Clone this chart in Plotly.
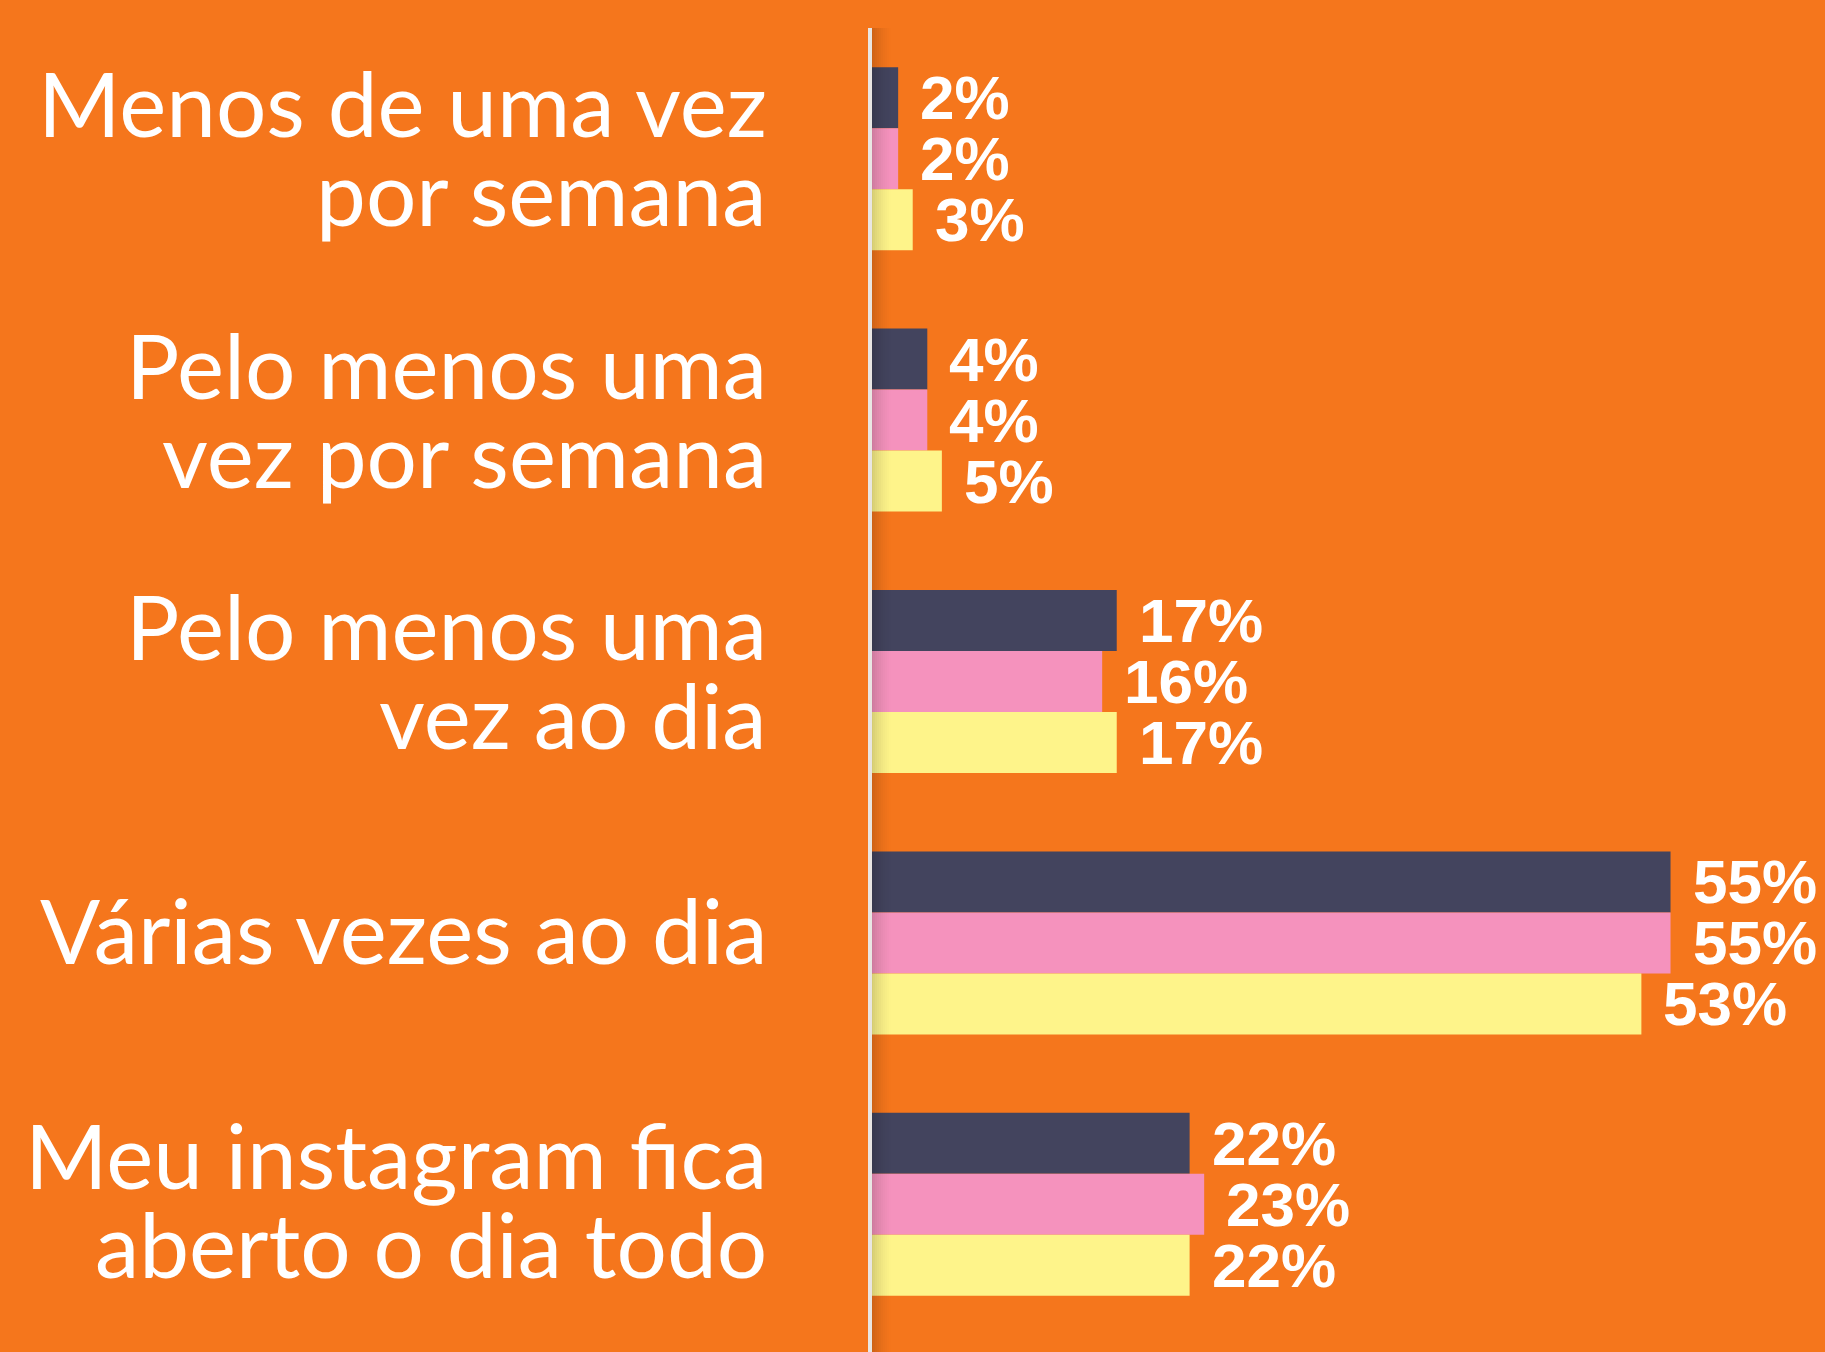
import plotly.graph_objects as go

categories = [
    "Menos de uma vez<br>por semana",
    "Pelo menos uma<br>vez por semana",
    "Pelo menos uma<br>vez ao dia",
    "Várias vezes ao dia",
    "Meu instagram fica<br>aberto o dia todo",
]
series_names = ["Série 1", "Série 2", "Série 3"]
values_dark = [2, 4, 17, 55, 22]
values_pink = [2, 4, 16, 55, 23]
values_yellow = [3, 5, 17, 53, 22]

colors = ["#43445e", "#f592bd", "#fef48a"]
BG = "#f5761c"
W, H = 1825, 1352
ML, MR, MT, MB = 869, 0, 28, 17
X_MAX = 65.6
BARGAP = 0.30
label_nudge = [0, 0, 0, 0, -6]

fig = go.Figure()
all_vals = [values_dark, values_pink, values_yellow]
for name, vals, col in zip(series_names, all_vals, colors):
    fig.add_trace(go.Bar(
        y=categories, x=vals, orientation="h", name=name,
        marker=dict(color=col, line=dict(width=0)),
        hoverinfo="x+y",
    ))

n_series = len(all_vals)
bw = (1 - BARGAP) / n_series
annotations = []
# value labels
for s, vals in enumerate(all_vals):
    off = (s - (n_series - 1) / 2) * bw
    for i, v in enumerate(vals):
        annotations.append(dict(
            x=v, y=i + off, xref="x", yref="y", text=f"<b>{v}%</b>",
            showarrow=False, xanchor="left", yanchor="middle", xshift=20,
            font=dict(family="Liberation Sans", size=62, color="white"),
        ))
# category labels, one annotation per line
for i, cat in enumerate(categories):
    lines = cat.split("<br>")
    shifts = [13] if len(lines) == 1 else [56, -33]
    for ln, sh in zip(lines, shifts):
        annotations.append(dict(
            x=0, y=i, xref="x", yref="y", text=ln, showarrow=False,
            xanchor="right", yanchor="middle", xshift=-100,
            yshift=sh + label_nudge[i],
            font=dict(family="Lato", size=89, color="white"),
        ))

shapes = []
plot_w = W - ML - MR
plot_h = H - MT - MB
line_top = 1  # axis line starts right at the top of the plot area
# shadow right of axis line
for k in range(10):
    shapes.append(dict(
        type="rect", xref="x domain", yref="paper",
        x0=(2 + 2 * k) / plot_w, x1=(4 + 2 * k) / plot_w,
        y0=-MB / plot_h, y1=line_top,
        fillcolor="black", opacity=0.16 * (1 - k / 10) ** 1.5,
        line=dict(width=0), layer="above",
    ))
# axis line
shapes.append(dict(
    type="rect", xref="x domain", yref="paper",
    x0=-1 / plot_w, x1=3 / plot_w, y0=-MB / plot_h, y1=line_top,
    fillcolor="#e9e6e3", line=dict(width=0), layer="above",
))

fig.update_layout(
    width=W, height=H,
    margin=dict(l=ML, r=MR, t=MT, b=MB),
    paper_bgcolor=BG, plot_bgcolor=BG,
    barmode="group", bargap=BARGAP, bargroupgap=0,
    showlegend=False,
    xaxis=dict(range=[0, X_MAX], visible=False, fixedrange=True),
    yaxis=dict(autorange="reversed", showticklabels=False, showgrid=False,
               zeroline=False, showline=False, ticks="", fixedrange=True),
    annotations=annotations,
    shapes=shapes,
)

fig.write_html(
    "out.html",
    config={"displayModeBar": False},
    post_script="document.body.style.margin='0';document.body.style.overflow='hidden';"
                "document.body.style.background='" + BG + "';",
)
